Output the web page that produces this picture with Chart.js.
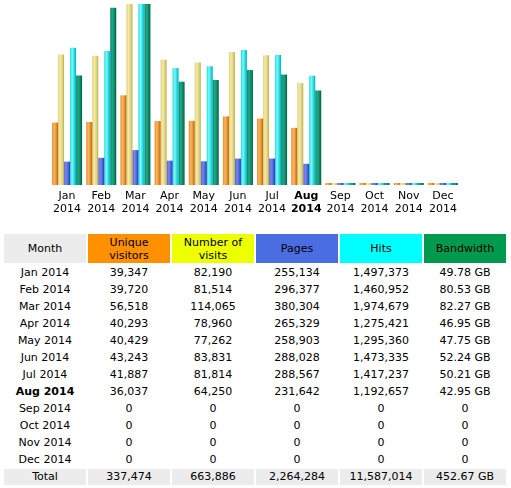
<!DOCTYPE html>
<html><head><meta charset="utf-8">
<script src="https://cdn.jsdelivr.net/npm/chart.js@4.4.1/dist/chart.umd.min.js"></script>
<style>
body{margin:0;background:#fff;font-family:'DejaVu Sans',Verdana,sans-serif;}
#wrap{width:511px;height:222px;}
table{border-collapse:separate;border-spacing:2px;margin-left:2px;margin-top:10px;font-size:11px;color:#000;table-layout:fixed;}
td,th{width:82px;padding:0;text-align:center;height:15px;line-height:15px;font-weight:normal;white-space:nowrap;}
th{height:29px;line-height:13px;white-space:normal;}
.b{font-weight:bold;}
tr.tot td{background:#ececec;height:16px;line-height:16px;}
</style>
</head><body>
<div id="wrap"><canvas id="c" width="511" height="222"></canvas></div>
<table id="t"></table>
<script>
const months = ['Jan','Feb','Mar','Apr','May','Jun','Jul','Aug','Sep','Oct','Nov','Dec'];
const year = '2014';
const currentMonth = 7;
const visitors  = [39347,39720,56518,40293,40429,43243,41887,36037,0,0,0,0];
const visits    = [82190,81514,114065,78960,77262,83831,81814,64250,0,0,0,0];
const pages     = [255134,296377,380304,265329,258903,288028,288567,231642,0,0,0,0];
const hits      = [1497373,1460952,1974679,1275421,1295360,1473335,1417237,1192657,0,0,0,0];
const bandwidth = [49.78,80.53,82.27,46.95,47.75,52.24,50.21,42.95,0,0,0,0];
const totals    = ['337,474','663,886','2,264,284','11,587,014','452.67 GB'];
const headers   = ['Month','Unique<br>visitors','Number of<br>visits','Pages','Hits','Bandwidth'];
const headerColors = ['#ececec','#ff9000','#eeff00','#4a6de2','#00ffff','#009a4e'];

const catPct = 0.878;
function grad(dark, light, mid){
  return (ctx)=>{
    const ch = ctx.chart;
    const xs = ch.scales && ch.scales.x;
    if (ctx.type !== 'data' || !xs || !xs.width) return mid;
    const w = xs.width/12*catPct/5;
    const cx = xs.getPixelForValue(ctx.dataIndex) + (ctx.datasetIndex-2)*w;
    const g = ch.ctx.createLinearGradient(cx-w/2,0,cx+w/2,0);
    g.addColorStop(0, mid);
    g.addColorStop(0.35, light);
    g.addColorStop(0.75, mid);
    g.addColorStop(1, dark);
    return g;
  };
}
const common = {barPercentage:1, categoryPercentage:catPct, borderWidth:0, minBarLength:2};
new Chart(document.getElementById('c'), {
  type:'bar',
  data:{
    labels: months.map(m=>[m,year]),
    datasets:[
      Object.assign({label:'Unique visitors', data:visitors, yAxisID:'yV', backgroundColor:grad('#b0600c','#f9b862','#e28a2a')}, common),
      Object.assign({label:'Number of visits', data:visits, yAxisID:'yV', backgroundColor:grad('#b8a650','#f4eaa4','#ddd07a')}, common),
      Object.assign({label:'Pages', data:pages, yAxisID:'yP', backgroundColor:grad('#2232a0','#7888f0','#4a5ed6')}, common),
      Object.assign({label:'Hits', data:hits, yAxisID:'yP', backgroundColor:grad('#0aa8b4','#7ff8f8','#1ad8e0')}, common),
      Object.assign({label:'Bandwidth', data:bandwidth, yAxisID:'yB', backgroundColor:grad('#045a44','#20a884','#0c8464')}, common)
    ]
  },
  options:{
    responsive:false, animation:false,
    layout:{padding:{left:50,right:51,top:4,bottom:0}},
    plugins:{legend:{display:false},tooltip:{enabled:false}},
    scales:{
      x:{grid:{display:false,drawTicks:false},border:{display:false},
         ticks:{padding:4,color:'#000',maxRotation:0,autoSkip:false,
           font:(c)=>({family:'DejaVu Sans',size:11,lineHeight:1.25,weight:c.index===currentMonth?'bold':'normal'})},
         afterFit:(s)=>{s.height=37;}},
      yV:{display:false,min:0,max:Math.max(...visits)},
      yP:{display:false,min:0,max:Math.max(...hits)},
      yB:{display:false,min:0,max:Math.max(...bandwidth)}
    }
  }
});

const fmt = n => n.toLocaleString('en-US');
const t = document.getElementById('t');
let html = '<tr>' + headers.map((h,i)=>`<th style="background:${headerColors[i]}">${h}</th>`).join('') + '</tr>';
months.forEach((m,i)=>{
  const bw = bandwidth[i] ? bandwidth[i].toFixed(2)+' GB' : '0';
  html += `<tr><td class="${i===currentMonth?'b':''}">${m} ${year}</td><td>${fmt(visitors[i])}</td><td>${fmt(visits[i])}</td><td>${fmt(pages[i])}</td><td>${fmt(hits[i])}</td><td>${bw}</td></tr>`;
});
html += '<tr class="tot"><td>Total</td>' + totals.map(v=>`<td>${v}</td>`).join('') + '</tr>';
t.innerHTML = html;
</script>
</body></html>
